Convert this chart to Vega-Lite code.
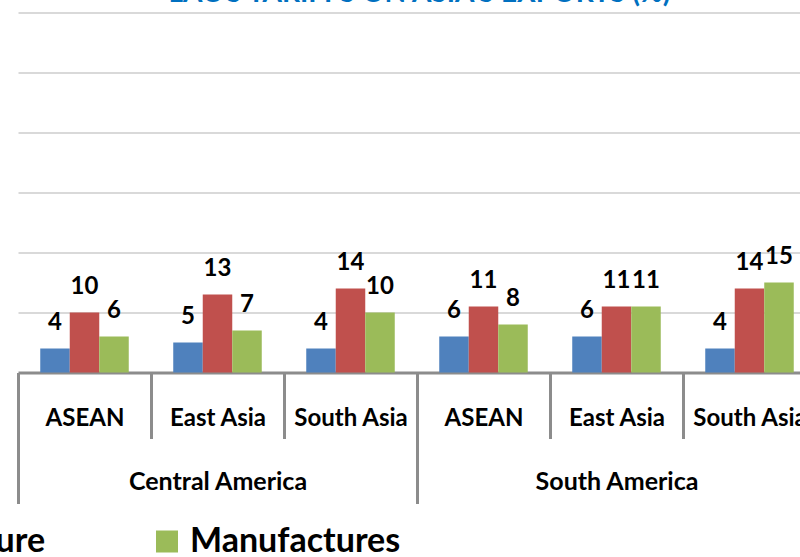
{
  "$schema": "https://vega.github.io/schema/vega-lite/v6.json",
  "width": 781,
  "height": 360,
  "autosize": {"type": "none"},
  "padding": {"left": 19, "top": 12.5, "right": 0, "bottom": 184.5},
  "background": "white",
  "title": {
    "text": "LAC'S TARIFFS ON ASIA'S EXPORTS (%)",
    "color": "#0070C0",
    "font": "Lato",
    "fontSize": 28,
    "fontWeight": "bold",
    "anchor": "middle",
    "baseline": "alphabetic",
    "offset": -17.5,
    "dx": 10
  },
  "config": {
    "view": {"stroke": null},
    "font": "Lato"
  },
  "layer": [
    {
      "data": {
        "values": [
          {"region": "Central America", "sub": "ASEAN", "series": "Mining", "value": 4},
          {"region": "Central America", "sub": "ASEAN", "series": "Agriculture", "value": 10},
          {"region": "Central America", "sub": "ASEAN", "series": "Manufactures", "value": 6},
          {"region": "Central America", "sub": "East Asia", "series": "Mining", "value": 5},
          {"region": "Central America", "sub": "East Asia", "series": "Agriculture", "value": 13},
          {"region": "Central America", "sub": "East Asia", "series": "Manufactures", "value": 7},
          {"region": "Central America", "sub": "South Asia", "series": "Mining", "value": 4},
          {"region": "Central America", "sub": "South Asia", "series": "Agriculture", "value": 14},
          {"region": "Central America", "sub": "South Asia", "series": "Manufactures", "value": 10},
          {"region": "South America", "sub": "ASEAN", "series": "Mining", "value": 6},
          {"region": "South America", "sub": "ASEAN", "series": "Agriculture", "value": 11},
          {"region": "South America", "sub": "ASEAN", "series": "Manufactures", "value": 8},
          {"region": "South America", "sub": "East Asia", "series": "Mining", "value": 6},
          {"region": "South America", "sub": "East Asia", "series": "Agriculture", "value": 11},
          {"region": "South America", "sub": "East Asia", "series": "Manufactures", "value": 11},
          {"region": "South America", "sub": "South Asia", "series": "Mining", "value": 4},
          {"region": "South America", "sub": "South Asia", "series": "Agriculture", "value": 14},
          {"region": "South America", "sub": "South Asia", "series": "Manufactures", "value": 15}
        ]
      },
      "transform": [{"calculate": "datum.region + '|' + datum.sub", "as": "key"}],
      "encoding": {
        "x": {
          "field": "key",
          "type": "nominal",
          "sort": null,
          "scale": {"range": [-1, 797], "paddingInner": 0, "paddingOuter": 0},
          "axis": {
            "orient": "bottom",
            "title": null,
            "grid": false,
            "labelAngle": 0,
            "labelExpr": "split(datum.label, '|')[1]",
            "labelFont": "Lato",
            "labelFontSize": 24,
            "labelFontWeight": "bold",
            "labelColor": "black",
            "labelPadding": -13,
            "labelBaseline": "alphabetic",
            "labelLimit": 200,
            "domainColor": "#8c8c8c",
            "domainWidth": 3,
            "tickBand": "extent",
            "tickColor": "#8c8c8c",
            "tickWidth": 3,
            "tickSize": 66
          }
        },
        "xOffset": {
          "field": "series",
          "type": "nominal",
          "sort": ["Mining", "Agriculture", "Manufactures"],
          "scale": {"paddingInner": 0, "paddingOuter": 0.754}
        },
        "y": {
          "field": "value",
          "type": "quantitative",
          "scale": {"domain": [0, 60], "nice": false},
          "axis": {
            "title": null,
            "labels": false,
            "ticks": false,
            "domain": false,
            "grid": true,
            "gridColor": "#d9d9d9",
            "gridWidth": 2,
            "values": [10, 20, 30, 40, 50, 60]
          }
        }
      },
      "layer": [
        {
          "mark": {"type": "bar"},
          "encoding": {
            "color": {
              "field": "series",
              "type": "nominal",
              "sort": ["Mining", "Agriculture", "Manufactures"],
              "scale": {"domain": ["Mining", "Agriculture", "Manufactures"], "range": ["#4F81BD", "#C0504D", "#9BBB59"]},
              "legend": {
                "orient": "none",
                "direction": "horizontal",
                "legendX": -433,
                "legendY": 512,
                "title": null,
                "symbolType": "square",
                "symbolSize": 484,
                "symbolStrokeWidth": 0,
                "symbolOpacity": 1,
                "labelFont": "Lato",
                "labelFontSize": 34,
                "labelFontWeight": "bold",
                "labelColor": "black",
                "labelOffset": 6,
                "columnPadding": 104,
                "labelLimit": 400
              }
            }
          }
        },
        {
          "mark": {"type": "text", "font": "Lato", "fontSize": 24, "fontWeight": "bold", "color": "black", "baseline": "alphabetic", "dy": -18.5},
          "encoding": {"text": {"field": "value", "type": "quantitative"}}
        }
      ]
    },
    {
      "data": {"values": [{"region": "Central America"}, {"region": "South America"}]},
      "mark": {"type": "point", "opacity": 0},
      "encoding": {
        "x": {
          "field": "region",
          "type": "nominal",
          "sort": null,
          "scale": {"range": [-1, 797], "paddingInner": 0, "paddingOuter": 0},
          "axis": {
            "orient": "bottom",
            "title": null,
            "grid": false,
            "domain": false,
            "ticks": true,
            "tickBand": "extent",
            "tickSize": 131,
            "tickWidth": 3,
            "tickColor": "#8c8c8c",
            "labelAngle": 0,
            "labelFont": "Lato",
            "labelFontSize": 25,
            "labelFontWeight": "bold",
            "labelColor": "black",
            "labelBaseline": "alphabetic",
            "labelLimit": 300,
            "labelPadding": -14
          }
        }
      }
    }
  ],
  "resolve": {"scale": {"x": "independent"}, "axis": {"x": "independent"}}
}
